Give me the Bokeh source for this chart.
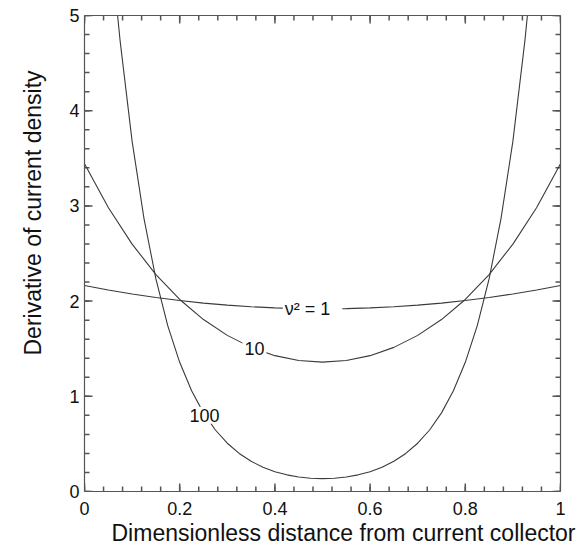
from bokeh.plotting import figure
from bokeh.models import (FixedTicker, LinearAxis, Label, Range1d, Title,
                          ColumnDataSource, CustomJSTickFormatter)
from bokeh.embed import file_html
from bokeh.resources import INLINE

FONT = "Liberation Sans"
GRAY = "#555555"
INK = "#3a3a3a"

# ---- data ----
x_ticks = [0, 0.2, 0.4, 0.6, 0.8, 1]
x_tick_labels = ["0", "0.2", "0.4", "0.6", "0.8", "1"]
y_ticks = [0, 1, 2, 3, 4, 5]

x_a = [0.0, 0.05, 0.1, 0.15, 0.2, 0.25, 0.3, 0.35, 0.4, 0.45, 0.5,
       0.55, 0.6, 0.65, 0.7, 0.75, 0.8, 0.85, 0.9, 0.95, 1.0]
y_nu2_1 = [2.164, 2.117, 2.075, 2.038, 2.006, 1.979, 1.958, 1.941, 1.929, 1.921, 1.919,
           1.921, 1.929, 1.941, 1.958, 1.979, 2.006, 2.038, 2.075, 2.117, 2.164]
y_nu2_10 = [3.442, 2.983, 2.599, 2.279, 2.017, 1.806, 1.640, 1.514, 1.427, 1.376, 1.359,
            1.376, 1.427, 1.514, 1.640, 1.806, 2.017, 2.279, 2.599, 2.983, 3.442]

x_b = [0.05, 0.0625, 0.075, 0.1, 0.125, 0.15, 0.175, 0.2, 0.225, 0.25, 0.275, 0.3,
       0.325, 0.35, 0.375, 0.4, 0.425, 0.45, 0.475, 0.5, 0.525, 0.55, 0.575, 0.6,
       0.625, 0.65, 0.675, 0.7, 0.725, 0.75, 0.775, 0.8, 0.825, 0.85, 0.875, 0.9,
       0.925, 0.9375, 0.95]
y_nu2_100 = [6.066, 5.354, 4.725, 3.680, 2.867, 2.233, 1.740, 1.357, 1.058, 0.826,
             0.646, 0.507, 0.400, 0.317, 0.255, 0.208, 0.175, 0.152, 0.139, 0.135,
             0.139, 0.152, 0.175, 0.208, 0.255, 0.317, 0.400, 0.507, 0.646, 0.826,
             1.058, 1.357, 1.740, 2.233, 2.867, 3.680, 4.725, 5.354, 6.066]

curve_labels = ["\u03bd\u00b2  =  1", "10", "100"]
label_x = [0.479, 0.357, 0.252]
label_y = [1.922, 1.505, 0.80]

x_title = "Dimensionless distance from current collector"
y_title = "Derivative of current density"

# ---- layout constants ----
FW, FH = 476, 476
X0, X1, Y0, Y1 = 0, 1, 0, 5
PX_X = FW / (X1 - X0)          # pixels per x unit
PX_Y = FH / (Y1 - Y0)          # pixels per y unit
MAJ, MIN = 8, 5                # inward tick lengths (px)
TW = 1.5                       # tick thickness (px)

p = figure(frame_width=FW, frame_height=FH, title=None,
           x_range=Range1d(X0, X1), y_range=Range1d(Y0, Y1),
           output_backend="svg", toolbar_location=None,
           min_border_left=82, min_border_right=24,
           min_border_top=15, min_border_bottom=61)
p.background_fill_color = "white"
p.border_fill_color = "white"
p.outline_line_color = None
p.xgrid.visible = False
p.ygrid.visible = False

x_minor = [round(i * 0.04, 4) for i in range(26)]
y_minor = [round(i * 0.2, 4) for i in range(26)]


def style(ax, ticker, standoff):
    ax.ticker = ticker
    ax.axis_line_color = GRAY
    ax.axis_line_width = 1.2
    ax.major_tick_line_color = None
    ax.minor_tick_line_color = None
    ax.major_tick_in = 0
    ax.major_tick_out = 0
    ax.minor_tick_in = 0
    ax.minor_tick_out = 0
    ax.major_label_text_font = FONT
    ax.major_label_text_font_size = "18px"
    ax.major_label_text_color = "#111111"
    ax.major_label_standoff = standoff


style(p.xaxis[0], FixedTicker(ticks=x_ticks, minor_ticks=x_minor), 10)
p.xaxis[0].major_label_overrides = {t: s for t, s in zip(x_ticks, x_tick_labels)}
style(p.yaxis[0], FixedTicker(ticks=y_ticks, minor_ticks=y_minor), 5)

blank = CustomJSTickFormatter(code="return ''")
top = LinearAxis()
style(top, FixedTicker(ticks=x_ticks, minor_ticks=x_minor), 0)
top.formatter = blank
p.add_layout(top, "above")
right = LinearAxis()
style(right, FixedTicker(ticks=y_ticks, minor_ticks=y_minor), 0)
right.formatter = blank
p.add_layout(right, "right")

# ---- inward ticks on all four sides: thin rectangles sized in screen pixels ----
vx, vy, vh = [], [], []        # ticks on bottom / top edges (vertical marks)
for ticks, ln in ((x_ticks, MAJ), (x_minor, MIN)):
    for t in ticks:
        vx += [t, t]
        vy += [Y0 + ln / 2 / PX_Y, Y1 - ln / 2 / PX_Y]
        vh += [ln, ln]
hx, hy, hw = [], [], []        # ticks on left / right edges (horizontal marks)
for ticks, ln in ((y_ticks, MAJ), (y_minor, MIN)):
    for t in ticks:
        hy += [t, t]
        hx += [X0 + ln / 2 / PX_X, X1 - ln / 2 / PX_X]
        hw += [ln, ln]
p.rect(x=vx, y=vy, width=TW, height=vh, width_units="screen", height_units="screen",
       fill_color=GRAY, line_color=None)
p.rect(x=hx, y=hy, width=hw, height=TW, width_units="screen", height_units="screen",
       fill_color=GRAY, line_color=None)

# ---- curves ----
src_a = ColumnDataSource(dict(x=x_a, y1=y_nu2_1, y10=y_nu2_10))
src_b = ColumnDataSource(dict(x=x_b, y100=y_nu2_100))
p.line("x", "y1", source=src_a, line_color=INK, line_width=1.1)
p.line("x", "y10", source=src_a, line_color=INK, line_width=1.1)
p.line("x", "y100", source=src_b, line_color=INK, line_width=1.1)

# ---- curve labels (white box breaks the line) ----
for t, lx, ly in zip(curve_labels, label_x, label_y):
    p.add_layout(Label(x=lx, y=ly, text=t, text_align="center", text_baseline="middle",
                       text_font=FONT, text_font_size="18px", text_color="#111111",
                       background_fill_color="white", padding=2))

# ---- axis titles (slightly off-centre, as in the reference) ----
p.add_layout(Title(text=x_title, align="left", offset=27, vertical_align="bottom",
                   text_font=FONT, text_font_size="23px", text_font_style="normal",
                   text_color="#111111", standoff=0), "below")
p.add_layout(Title(text=y_title, align="left", offset=136, vertical_align="top",
                   text_font=FONT, text_font_size="23px", text_font_style="normal",
                   text_color="#111111", standoff=38), "left")

open("out.html", "w").write(file_html(p, INLINE))
